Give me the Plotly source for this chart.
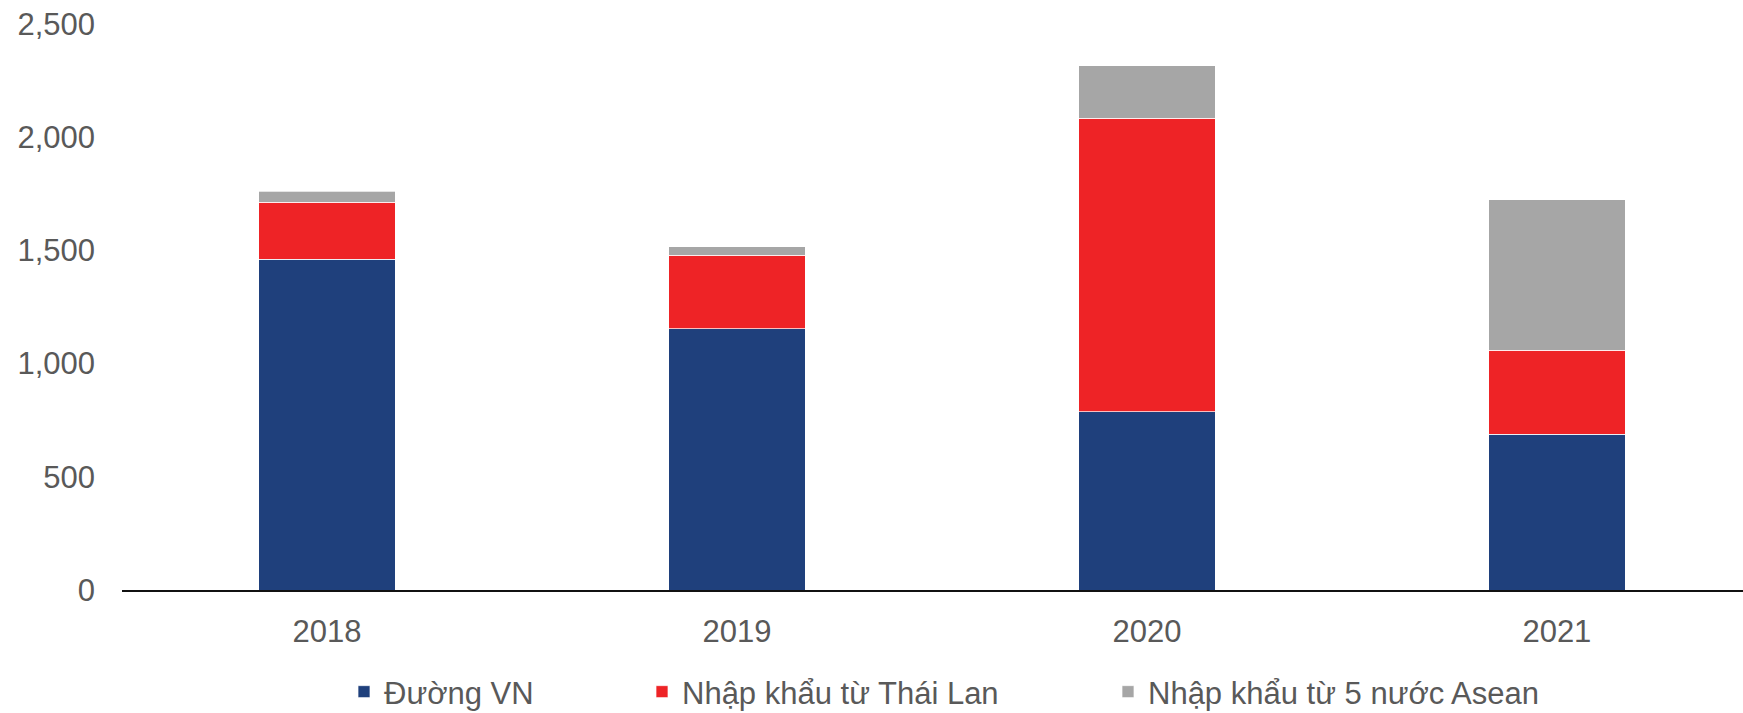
import plotly.graph_objects as go

# Sugar supply by source, thousand tonnes
years = ["2018", "2019", "2020", "2021"]
duong_vn = [1460, 1153, 788, 687]
nk_thai_lan = [252, 325, 1295, 371]
nk_asean = [50, 38, 233, 666]

series_names = ["Đường VN", "Nhập khẩu từ Thái Lan", "Nhập khẩu từ 5 nước Asean"]
series_values = [duong_vn, nk_thai_lan, nk_asean]
series_colors = ["#1F407C", "#EE2326", "#A6A6A6"]
legend_ids = ["legend", "legend2", "legend3"]
legend_x = [344, 642, 1108]

W, H = 1743, 713
FONT = "Liberation Sans, Arial, sans-serif"
TEXT = "#595959"
FS = 31

fig = go.Figure()
for name, vals, col, lg in zip(series_names, series_values, series_colors, legend_ids):
    fig.add_trace(go.Bar(
        x=years, y=vals, name=name,
        marker=dict(color=col, line=dict(color="rgba(255,255,255,0.7)", width=1)),
        width=0.333, legend=lg, showlegend=True,
    ))

legend_common = dict(
    orientation="h", xref="container", yref="container",
    xanchor="left", yanchor="middle", y=1 - 692 / H,
    font=dict(family=FONT, size=FS, color=TEXT),
    bgcolor="rgba(0,0,0,0)", borderwidth=0,
)

fig.update_layout(
    width=W, height=H,
    margin=dict(l=122, r=0, t=24, b=123),
    paper_bgcolor="white", plot_bgcolor="white",
    barmode="stack",
    showlegend=True,
    font=dict(family=FONT, size=FS, color=TEXT),
    legend=dict(legend_common, x=legend_x[0] / W, visible=True),
    legend2=dict(legend_common, x=legend_x[1] / W, visible=True),
    legend3=dict(legend_common, x=legend_x[2] / W, visible=True),
    xaxis=dict(
        range=[-0.5, 3.454], showgrid=False, zeroline=False,
        showline=True, linecolor="#111111", linewidth=1.5,
        ticks="", ticklabelstandoff=13,
        tickfont=dict(family=FONT, size=FS, color=TEXT),
    ),
    yaxis=dict(
        range=[0, 2500], tickvals=[0, 500, 1000, 1500, 2000, 2500],
        tickformat=",d", showgrid=False, zeroline=False, showline=False,
        ticks="", ticklabelstandoff=26,
        tickfont=dict(family=FONT, size=FS, color=TEXT),
    ),
)

fig.write_html("out.html")
